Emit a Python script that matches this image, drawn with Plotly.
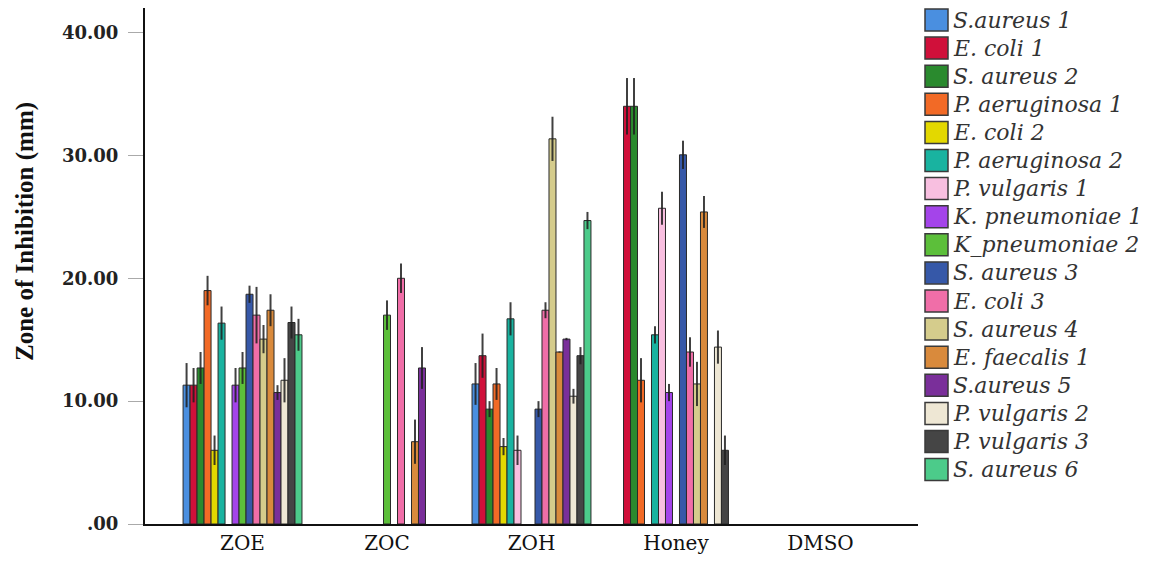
import plotly.graph_objects as go

groups = ["ZOE", "ZOC", "ZOH", "Honey", "DMSO"]

series_names = [
    "S.aureus 1", "E. coli 1", "S. aureus 2", "P. aeruginosa 1", "E. coli 2",
    "P. aeruginosa 2", "P. vulgaris 1", "K. pneumoniae 1", "K_pneumoniae 2",
    "S. aureus 3", "E. coli 3", "S. aureus 4", "E. faecalis 1", "S.aureus 5",
    "P. vulgaris 2", "P. vulgaris 3", "S. aureus 6",
]

series_colors = [
    "#4a8fe0", "#d0103a", "#2a8a2e", "#f26a26", "#e3d800",
    "#19b3a0", "#f8bfe0", "#a444ea", "#5cbf3a",
    "#3658a8", "#f06ea8", "#d5cc8c", "#d98a3c", "#7a2f9a",
    "#eee7d4", "#454545", "#4ccb8a",
]

# values per group: ZOE, ZOC, ZOH, Honey, DMSO  (None = no bar)
means = [
    [11.3, None, 11.4, None, None],   # S.aureus 1
    [11.3, None, 13.7, 34.0, None],   # E. coli 1
    [12.7, None, 9.35, 34.0, None],   # S. aureus 2
    [19.0, None, 11.4, 11.7, None],   # P. aeruginosa 1
    [6.0, None, 6.3, None, None],     # E. coli 2
    [16.35, None, 16.7, 15.4, None],  # P. aeruginosa 2
    [None, None, 6.0, 25.7, None],    # P. vulgaris 1
    [11.3, None, None, 10.7, None],   # K. pneumoniae 1
    [12.7, 17.0, None, None, None],   # K_pneumoniae 2
    [18.7, None, 9.35, 30.05, None],  # S. aureus 3
    [17.0, 20.0, 17.4, 14.0, None],   # E. coli 3
    [15.05, None, 31.35, 11.4, None], # S. aureus 4
    [17.4, 6.7, 14.0, 25.4, None],    # E. faecalis 1
    [10.7, 12.7, 15.05, None, None],  # S.aureus 5
    [11.7, None, 10.4, 14.4, None],   # P. vulgaris 2
    [16.4, None, 13.7, 6.0, None],    # P. vulgaris 3
    [15.4, None, 24.7, None, None],   # S. aureus 6
]

errors = [
    [1.8, 0, 1.7, 0, 0],
    [1.4, 0, 1.8, 2.3, 0],
    [1.3, 0, 0.65, 2.3, 0],
    [1.2, 0, 1.3, 1.8, 0],
    [1.2, 0, 0.7, 0, 0],
    [1.35, 0, 1.35, 0.7, 0],
    [0, 0, 1.2, 1.35, 0],
    [1.4, 0, 0, 0.7, 0],
    [1.3, 1.2, 0, 0, 0],
    [0.7, 0, 0.65, 1.15, 0],
    [2.3, 1.2, 0.65, 1.2, 0],
    [1.15, 0, 1.8, 1.8, 0],
    [1.3, 1.8, 0.05, 1.3, 0],
    [0.6, 1.7, 0.1, 0, 0],
    [1.8, 0, 0.6, 1.35, 0],
    [1.3, 0, 0.7, 1.2, 0],
    [1.3, 0, 0.7, 0, 0],
]

y_tick_vals = [0, 10, 20, 30, 40]
y_tick_text = [".00", "10.00", "20.00", "30.00", "40.00"]

fig = go.Figure()
for name, color, vals, errs in zip(series_names, series_colors, means, errors):
    fig.add_trace(go.Bar(
        name=name,
        x=groups,
        y=vals,
        marker=dict(color=color, line=dict(color="#2a2a2a", width=1)),
        error_y=dict(type="data", array=errs, visible=True,
                     color="rgba(30,30,30,0.85)", thickness=2, width=0),
        showlegend=False,
    ))

# page geometry (the page body has an 8px margin)
PL, PR, PT, PB = 145, 918, 8, 524
PW, PH = PR - PL, PB - PT


def px(xp):
    return (xp - PL) / PW


def py(yp):
    return (PB - yp) / PH


# legend drawn as swatches + text beside the plot
shapes = []
annotations = []
for i, (name, color) in enumerate(zip(series_names, series_colors)):
    cy = 20 + 28.1 * i
    shapes.append(dict(type="rect", xref="paper", yref="paper",
                       x0=px(925), x1=px(948), y0=py(cy + 11), y1=py(cy - 11),
                       fillcolor=color, line=dict(color="#3a3a3a", width=1.5)))
    annotations.append(dict(xref="paper", yref="paper",
                            x=px(951), y=py(cy),
                            xanchor="left", yanchor="middle", showarrow=False,
                            text="<i>" + name + "</i>",
                            font=dict(family="DejaVu Serif", size=22, color="#333333")))

annotations.append(dict(xref="paper", yref="paper", x=px(25), y=py(232),
                        textangle=-90, showarrow=False,
                        xanchor="center", yanchor="middle",
                        text="<b>Zone of Inhibition (mm)</b>",
                        font=dict(family="Liberation Serif", size=25, color="#111111")))

fig.update_layout(
    width=1146, height=554,
    margin=dict(l=PL - 8, r=1146 - (PL - 8) - PW, t=0, b=554 - PH),
    paper_bgcolor="white", plot_bgcolor="white",
    barmode="group", bargap=0.177, bargroupgap=0,
    showlegend=False,
    shapes=shapes,
    annotations=annotations,
    xaxis=dict(
        type="category", range=[-0.675, 4.675],
        showline=True, linecolor="#111111", linewidth=2,
        ticks="", showgrid=False, zeroline=False,
        tickfont=dict(family="DejaVu Serif", size=20, color="#111111"),
    ),
    yaxis=dict(
        range=[0, 42], tickvals=y_tick_vals, ticktext=y_tick_text,
        showline=True, linecolor="#111111", linewidth=2,
        ticks="outside", ticklen=15, tickcolor="#aaaaaa", tickwidth=1,
        ticklabelstandoff=6,
        showgrid=False, zeroline=False,
        tickfont=dict(family="DejaVu Serif", size=18, color="#222222", weight="bold"),
    ),
)

fig.write_html("out.html")
